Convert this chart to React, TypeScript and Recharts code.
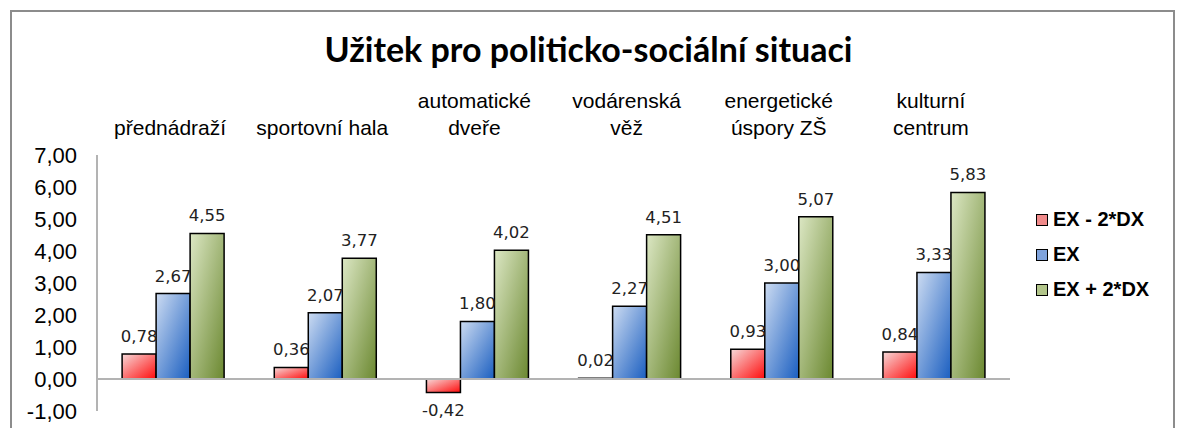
import { BarChart, Bar, XAxis, YAxis, ReferenceLine, LabelList } from 'recharts';

const categories = ['přednádraží', 'sportovní hala', 'automatické\ndveře', 'vodárenská\nvěž', 'energetické\núspory ZŠ', 'kulturní\ncentrum'];
const lowValues = [0.78, 0.36, -0.42, 0.02, 0.93, 0.84];
const meanValues = [2.67, 2.07, 1.8, 2.27, 3.0, 3.33];
const highValues = [4.55, 3.77, 4.02, 4.51, 5.07, 5.83];
const yTicks = [-1, 0, 1, 2, 3, 4, 5, 6, 7];

const series = [
  { key: 'low', name: 'EX - 2*DX', grad: 'gRed', from: '#f7d9d9', to: '#ff0a0a', swatch: '#f08a8a' },
  { key: 'mean', name: 'EX', grad: 'gBlue', from: '#cddcf2', to: '#1a5ec0', swatch: '#7fa3dc' },
  { key: 'high', name: 'EX + 2*DX', grad: 'gGreen', from: '#dce7c4', to: '#6b8830', swatch: '#b2c58a' },
];

const data = categories.map((c, i) => ({
  name: c,
  low: lowValues[i],
  mean: meanValues[i],
  high: highValues[i],
}));

const fmt = (v: number) => v.toFixed(2).replace('.', ',');

function CategoryTick(props: any) {
  const { x, y, payload } = props;
  const lines = String(payload.value).split('\n');
  const n = lines.length;
  return (
    <g>
      {lines.map((line, i) => (
        <text
          key={i}
          x={x - 3}
          y={y - 12 - (n - 1 - i) * 27}
          textAnchor="middle"
          fill="#000"
          fontSize={21}
          fontFamily="'Liberation Sans', Arial, sans-serif"
        >
          {line}
        </text>
      ))}
    </g>
  );
}

function LegendBox() {
  return (
    <div style={{ fontFamily: "'Liberation Sans', Arial, sans-serif", fontWeight: 'bold', fontSize: 20 }}>
      {series.map(s => (
        <div key={s.key} style={{ display: 'flex', alignItems: 'center', height: 35 }}>
          <span style={{ width: 10, height: 10, border: '1.5px solid #000', background: s.swatch, marginRight: 5, display: 'inline-block' }} />
          <span>{s.name}</span>
        </div>
      ))}
    </div>
  );
}

export default function App() {
  return (
    <div style={{ position: 'fixed', left: 0, top: 0, width: 1177, height: 428, overflow: 'hidden', background: '#fff' }}>
      <div style={{ position: 'absolute', left: 10, top: 10, width: 1161, height: 440, border: '2px solid #8c8c8c' }} />
      <div
        style={{
          position: 'absolute', left: 0, width: 1177, top: 28, textAlign: 'center',
          fontFamily: 'Lato, sans-serif', fontWeight: 'bold', fontSize: 34, color: '#000',
        }}
      >
        Užitek pro politicko-sociální situaci
      </div>
      <div style={{ position: 'absolute', left: 0, top: 0 }}>
        <BarChart
          width={1177}
          height={428}
          data={data}
          margin={{ top: 95, right: 167, bottom: 17, left: 0 }}
          barCategoryGap="16.5%"
          barGap={0}
        >
          <defs>
            {series.map(s => (
              <linearGradient key={s.grad} id={s.grad} x1="0" y1="0" x2="1" y2="1">
                <stop offset="0%" stopColor={s.from} />
                <stop offset="100%" stopColor={s.to} />
              </linearGradient>
            ))}
          </defs>
          <XAxis
            dataKey="name"
            orientation="top"
            height={60}
            axisLine={false}
            tickLine={false}
            interval={0}
            tick={<CategoryTick />}
          />
          <YAxis
            width={97}
            domain={[-1, 7]}
            ticks={yTicks}
            interval={0}
            tickFormatter={fmt}
            tickLine={false}
            tickSize={0}
            tickMargin={20}
            axisLine={{ stroke: '#b3b3b3', strokeWidth: 2 }}
            tick={{ fill: '#000', fontSize: 22, fontFamily: "'Liberation Sans', Arial, sans-serif" }}
          />
          <ReferenceLine y={0} stroke="#b3b3b3" strokeWidth={2} />
          {series.map(s => (
            <Bar
              key={s.key}
              dataKey={s.key}
              name={s.name}
              fill={`url(#${s.grad})`}
              stroke="#000"
              strokeWidth={1.5}
              isAnimationActive={false}
            >
              <LabelList
                dataKey={s.key}
                position="top"
                offset={12}
                formatter={(v: any) => fmt(Number(v))}
                style={{ fill: '#222', fontSize: 16.5, fontFamily: "'DejaVu Sans', Verdana, sans-serif" }}
              />
            </Bar>
          ))}
        </BarChart>
      </div>
      <div style={{ position: 'absolute', left: 1036, top: 202 }}>
        <LegendBox />
      </div>
    </div>
  );
}
